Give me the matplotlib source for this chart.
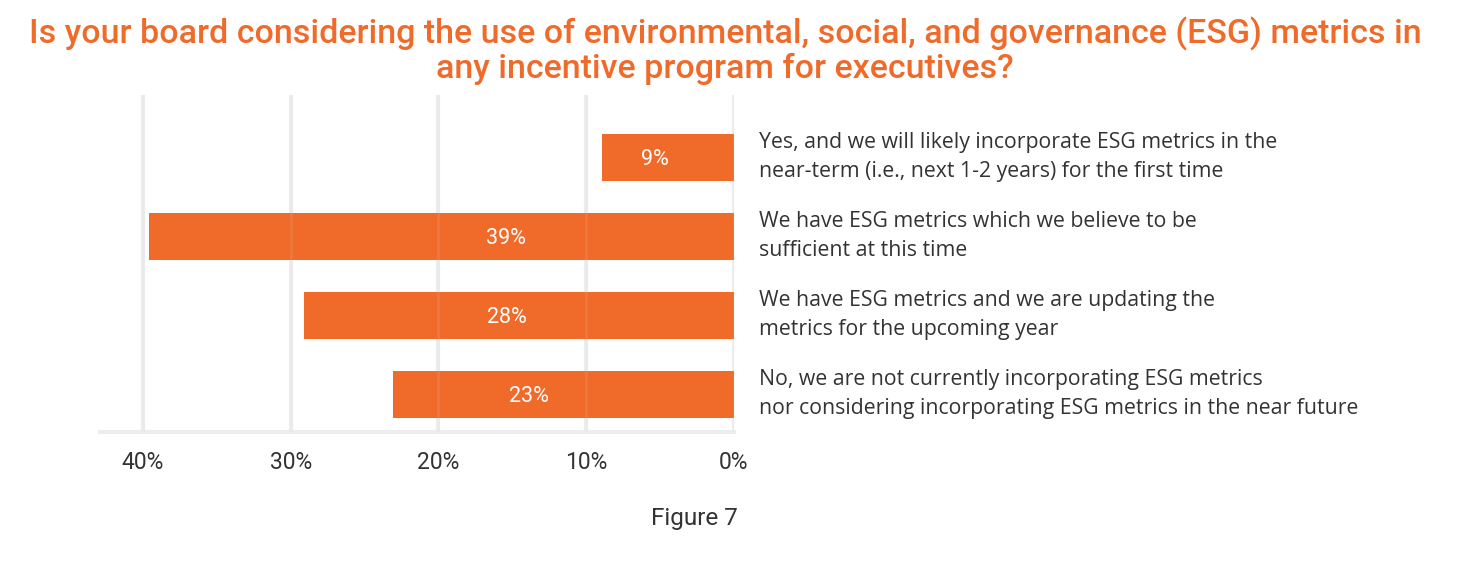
import matplotlib.pyplot as plt
import numpy as np

# Data
categories = [
    "Yes, and we will likely incorporate ESG metrics in the\nnear-term (i.e., next 1-2 years) for the first time",
    "We have ESG metrics which we believe to be\nsufficient at this time",
    "We have ESG metrics and we are updating the\nmetrics for the upcoming year",
    "No, we are not currently incorporating ESG metrics\nnor considering incorporating ESG metrics in the near future",
]
values = [8.9, 39.6, 29.1, 23.1]
value_labels = ["9%", "39%", "28%", "23%"]
ticks = [40, 30, 20, 10, 0]
tick_labels = ["40%", "30%", "20%", "10%", "0%"]

orange = "#F06A2A"
grid_col = "#EDEDED"
title_font = ["Roboto", "DejaVu Sans"]
text_font = ["Open Sans", "DejaVu Sans"]

fig = plt.figure(figsize=(14.71, 5.66), dpi=100)
ax = fig.add_axes([100 / 1471, 1 - 432 / 566, (734 - 100) / 1471, (432 - 95) / 566])

y = np.arange(len(categories))
ax.barh(y, values, height=0.595, color=orange, zorder=2)

# white value labels inside the bars
for i in range(len(values)):
    ax.text(min(15.4, values[i] * 0.6), y[i] + 0.03, value_labels[i], color="white",
            ha="center", va="center", fontsize=15.5, family=title_font, zorder=4)

# category labels on the right
for i in range(len(categories)):
    ax.text(1.04, y[i], categories[i], transform=ax.get_yaxis_transform(),
            ha="left", va="center", fontsize=15.3, color="#333333",
            family=text_font, linespacing=1.48)

ax.set_xlim(42.9, 0)
ax.set_ylim(3.48, -0.785)
ax.set_xticks(ticks)
ax.set_xticklabels(tick_labels, family=title_font, fontsize=16.5, color="#333333")
ax.set_yticks([])
for t in ticks:
    ax.axvline(t, color=grid_col, lw=3, zorder=1)
    ax.axvline(t, color="#DADADA", lw=2, alpha=0.12, zorder=3)

for s in ["top", "left", "right"]:
    ax.spines[s].set_visible(False)
ax.spines["bottom"].set_color(grid_col)
ax.spines["bottom"].set_linewidth(3)
ax.tick_params(axis="x", length=0, pad=14)

fig.text(0.493, 1 - 51 / 566, "Is your board considering the use of environmental, social, and governance (ESG) metrics in\nany incentive program for executives?",
         ha="center", va="center", color=orange, fontsize=24.5, fontweight="medium",
         family=title_font, linespacing=1.1)
fig.text(694 / 1471, 1 - 519 / 566, "Figure 7", ha="center", va="center",
         fontsize=17.5, color="#333333", family=title_font)

plt.savefig("out.png", dpi=100)
plt.close()
